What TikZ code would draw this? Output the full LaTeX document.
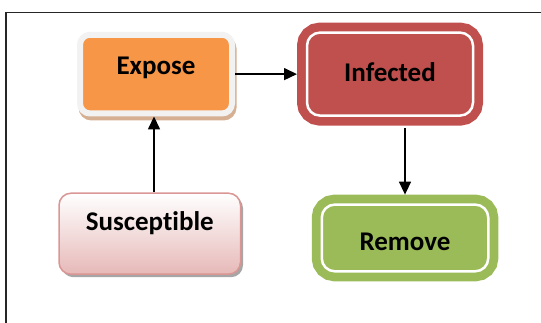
\documentclass[tikz,border=0pt]{standalone}
\usepackage{fontspec}
\setmainfont{Carlito}[Ligatures=NoCommon]
\usetikzlibrary{arrows.meta, positioning, shadows}

\definecolor{exposeOrange}{RGB}{247,150,70}
\definecolor{exposeRim}{RGB}{242,242,242}
\definecolor{exposeShade}{RGB}{214,176,146}
\definecolor{infectRed}{RGB}{192,80,77}
\definecolor{removeGreen}{RGB}{155,187,89}
\definecolor{suscPink}{RGB}{230,185,184}
\definecolor{suscEdge}{RGB}{217,150,148}

\begin{document}
\begin{tikzpicture}[
    x=1pt, y=-1pt,
    every node/.style={font=\fontsize{27}{32}\selectfont\bfseries, inner sep=0pt},
    blockExpose/.style={rectangle, rounded corners=10pt, draw=exposeRim, line width=6pt, fill=exposeOrange, outer sep=3pt, minimum width=152pt, text height=39.5pt, text depth=39.2pt,
        general shadow={draw=exposeShade, fill=exposeShade, line width=6pt, shadow xshift=1.5pt, shadow yshift=-4pt}},
    blockInfected/.style={rectangle, rounded corners=13pt, draw=white, line width=2.5pt, fill=infectRed, preaction={draw=infectRed, line width=20pt}, outer sep=10pt, minimum width=166pt, text height=48.7pt, text depth=34.3pt},
    blockRemove/.style={rectangle, rounded corners=13pt, draw=white, line width=2.5pt, fill=removeGreen, preaction={draw=removeGreen, line width=20pt}, outer sep=10pt, minimum width=166.5pt, text height=45.7pt, text depth=21pt},
    blockSusceptible/.style={rectangle, rounded corners=12pt, draw=suscEdge, line width=1.5pt, top color=white, bottom color=suscPink, outer sep=0.75pt, minimum width=181.5pt, text height=37.2pt, text depth=43.8pt,
        drop shadow={shadow xshift=2.5pt, shadow yshift=-3pt, fill=black!35, opacity=1}},
    flow/.style={-{Triangle[length=13pt, width=12pt]}, line width=1.5pt, black},
    frame/.style={draw=black!85, line width=1.7pt}
]
\useasboundingbox (0,0) rectangle (541,322);

% ============== Marco ==============
\draw[frame] (5.8,330) -- (5.8,12.5) -- (560,12.5);

% ============== Estados ==============
\node[blockExpose] (expose) at (156,74.1) {Expose};
\node[blockInfected, right=62pt of expose] (infected) {Infected};
\node[blockRemove, below=69pt of infected, xshift=15pt] (remove) {Remove};
\node[blockSusceptible, below=76pt of expose, xshift=-6.25pt] (susceptible) {Susceptible};

% ============== Transiciones ==============
\draw[flow] ([xshift=4.25pt]susceptible.north) -- ([xshift=4.25pt]susceptible.north |- expose.south);
\draw[flow] (expose.east) -- (infected.west);
\draw[flow, shorten <=2.5pt] (infected.south -| remove.north) -- (remove.north);
\end{tikzpicture}
\end{document}
